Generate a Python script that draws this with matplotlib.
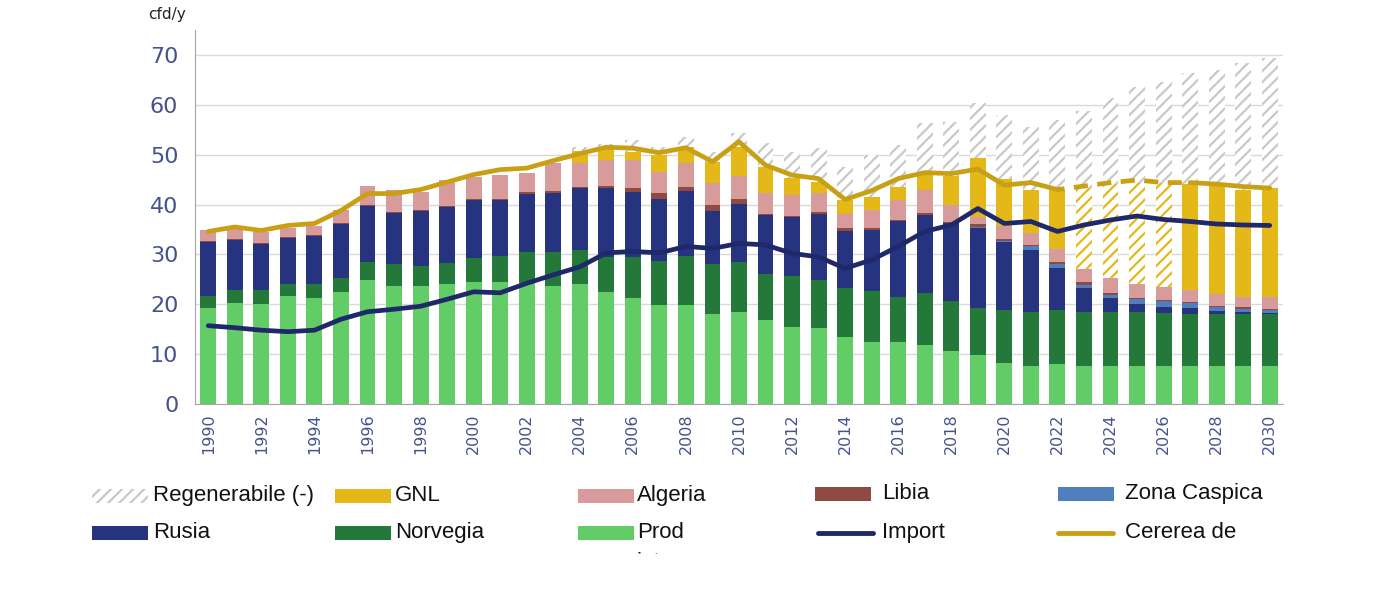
import numpy as np
import matplotlib
matplotlib.use("Agg")
import matplotlib.pyplot as plt
from matplotlib.patches import Rectangle
from matplotlib.lines import Line2D
from matplotlib.transforms import Bbox, TransformedBbox

years = np.arange(1990, 2031)

# stacked components (cfd/y), bottom to top
prod = [19.3, 20.3, 20.0, 21.7, 21.2, 22.4, 24.9, 23.7, 23.7, 24.0,
        24.4, 24.4, 24.2, 23.6, 24.1, 22.4, 21.2, 19.9, 19.9, 18.0,
        18.4, 16.8, 15.5, 15.2, 13.5, 12.4, 12.4, 11.8, 10.7, 9.9,
        8.3, 7.6, 8.0, 7.6, 7.6, 7.6, 7.6, 7.6, 7.6, 7.6, 7.6]
norvegia = [2.4, 2.6, 2.9, 2.3, 2.8, 2.8, 3.5, 4.3, 4.0, 4.3,
            4.8, 5.3, 6.2, 6.8, 6.8, 7.1, 8.3, 8.8, 9.8, 10.1,
            10.0, 9.3, 10.2, 9.7, 9.7, 10.3, 9.1, 10.5, 10.0, 9.3,
            10.6, 10.9, 10.9, 10.9, 10.9, 10.9, 10.6, 10.4, 10.4, 10.4, 10.4]
rusia = [10.7, 9.9, 9.1, 9.2, 9.7, 10.9, 11.3, 10.4, 11.0, 11.3,
         11.7, 11.2, 11.8, 12.0, 12.4, 13.9, 13.1, 12.5, 13.1, 10.7,
         11.8, 11.8, 11.7, 13.3, 11.4, 12.2, 15.1, 15.6, 15.5, 16.0,
         13.5, 12.4, 8.3, 4.7, 2.7, 1.6, 1.3, 1.2, 0.7, 0.4, 0.2]
caspica = [0.0] * 29 + [0.2, 0.2, 0.7, 0.9, 0.7, 0.7, 0.9, 1.2, 1.0, 0.8, 0.7, 0.6]
libia = [0.2] * 12 + [0.3, 0.3, 0.3, 0.3, 0.7, 1.1, 0.8, 1.1,
                      1.0, 0.3, 0.3, 0.3, 0.7, 0.4, 0.3, 0.5, 0.3, 0.7,
                      0.4, 0.3, 0.3, 0.5, 0.3, 0.3, 0.2, 0.2, 0.2, 0.4, 0.2]
algeria = [2.3, 2.0, 2.2, 1.8, 1.8, 2.7, 3.8, 4.3, 3.7, 5.1,
           4.5, 4.8, 3.8, 5.6, 4.7, 5.2, 5.6, 4.3, 4.7, 4.4,
           4.5, 4.1, 4.2, 3.9, 2.9, 3.6, 4.0, 4.5, 3.4, 1.5,
           2.6, 2.3, 2.6, 2.6, 3.0, 2.7, 2.6, 2.5, 2.4, 1.9, 2.4]
gnl = [0.0] * 14 + [2.5, 2.6, 1.7, 3.3, 3.3, 4.3,
                    5.9, 5.3, 3.4, 2.2, 2.7, 2.7, 2.7, 3.0, 5.8, 11.7,
                    9.5, 8.7, 11.9, 16.3, 18.9, 20.4, 20.9, 21.2, 21.6, 21.6, 21.9]
regenerabile = [0.0] * 14 + [0.8, 0.6, 2.3, 1.6, 1.9, 2.0,
                             2.7, 4.7, 5.3, 6.7, 6.7, 8.3, 8.3, 10.4, 10.9, 11.1,
                             12.9, 12.6, 14.1, 15.5, 17.2, 19.2, 20.1, 22.2, 23.3, 25.3, 26.0]

# lines
import_gaz = [15.7, 15.3, 14.8, 14.5, 14.8, 17.0, 18.5, 19.0, 19.6, 21.0,
              22.5, 22.3, 24.2, 25.9, 27.5, 30.3, 30.6, 30.3, 31.6, 31.2,
              32.2, 31.9, 30.2, 29.5, 27.2, 28.9, 31.6, 34.6, 35.9, 39.2,
              36.2, 36.6, 34.6, 35.9, 36.9, 37.7, 37.0, 36.6, 36.1, 35.9, 35.8]
cerere = [34.6, 35.5, 34.8, 35.8, 36.2, 38.8, 42.2, 42.2, 43.0, 44.5,
          46.0, 47.0, 47.3, 48.8, 50.2, 51.5, 51.3, 50.4, 51.4, 48.6,
          52.6, 47.9, 45.9, 45.2, 41.0, 42.8, 45.2, 46.4, 46.2, 47.1,
          43.9, 44.4, 43.0, 43.7, 44.4, 44.9, 44.4, 44.4, 44.1, 43.6, 43.3]

gnl_hatched_years = [2023, 2024, 2025, 2026]

C_PROD = "#62cd66"
C_NOR = "#23783a"
C_RUS = "#26337f"
C_CAS = "#4f80bd"
C_LIB = "#8f4a42"
C_ALG = "#d79b9b"
C_GNL = "#e4b818"
C_REG = "#c8c8c8"
C_IMP = "#1f2868"
C_CER = "#c9a014"
C_TICK = "#44538c"

plt.rcParams["hatch.linewidth"] = 1.6
fig = plt.figure(figsize=(14, 6), dpi=100)
ax = fig.add_axes([195 / 1400, 1 - 404 / 600, (1283 - 195) / 1400, (404 - 30) / 600])

w = 0.6
bottom = np.zeros(len(years))
for vals, col in [(prod, C_PROD), (norvegia, C_NOR), (rusia, C_RUS),
                  (caspica, C_CAS), (libia, C_LIB), (algeria, C_ALG)]:
    ax.bar(years, vals, w, bottom=bottom, color=col, linewidth=0, zorder=2)
    bottom += np.array(vals)

gnl = np.array(gnl)
hatch_mask = np.isin(years, gnl_hatched_years)
ax.bar(years[~hatch_mask], gnl[~hatch_mask], w, bottom=bottom[~hatch_mask],
       color=C_GNL, linewidth=0, zorder=2)
ax.bar(years[hatch_mask], gnl[hatch_mask], w, bottom=bottom[hatch_mask],
       facecolor="white", edgecolor=C_GNL, hatch="///", linewidth=0, zorder=2)
bottom += gnl
ax.bar(years, regenerabile, w, bottom=bottom, facecolor="white",
       edgecolor=C_REG, hatch="///", linewidth=0, zorder=1.5)

ax.plot(years, import_gaz, color=C_IMP, lw=3.4, solid_capstyle="round", zorder=4)
cer = np.array(cerere)
m1 = years <= 2022
m2 = (years >= 2022) & (years <= 2027)
m3 = years >= 2027
ax.plot(years[m1], cer[m1], color=C_CER, lw=3.4, solid_capstyle="round", zorder=4)
ax.plot(years[m2], cer[m2], color=C_CER, lw=3.4, linestyle=(1.5, (3, 2)), zorder=4)
ax.plot(years[m3], cer[m3], color=C_CER, lw=3.4, solid_capstyle="round", zorder=4)

ax.set_xlim(1989.5, 2030.5)
ax.set_ylim(0, 75)
ax.set_yticks(np.arange(0, 71, 10))
ax.set_xticks(years[::2])
ax.set_xticklabels([str(y) for y in years[::2]], rotation=90)
ax.tick_params(axis="y", length=0, pad=12, labelsize=16, labelcolor=C_TICK)
ax.tick_params(axis="x", length=0, pad=7, labelsize=11.5, labelcolor=C_TICK)
ax.grid(axis="y", color="#d9d9d9", lw=1, zorder=0)
ax.set_axisbelow(True)
for s in ["top", "right"]:
    ax.spines[s].set_visible(False)
ax.spines["left"].set_color("#a6a6a6")
ax.spines["bottom"].set_color("#a6a6a6")

fig.text(148 / 1400, 1 - 15 / 600, "cfd/y", fontsize=11, color="#222222", va="center")

# legend, drawn by hand to match the grid layout
FONT = ["Liberation Sans", "DejaVu Sans"]
clip = TransformedBbox(Bbox([[0, 1 - 554 / 600], [1, 1]]), fig.transFigure)


def fx(px):
    return px / 1400


def fy(py):
    return 1 - py / 600


legend_items = [
    ("hatch", C_REG, 92, 496, "Regenerabile (-)", 153),
    ("patch", C_GNL, 335, 496, "GNL", 395),
    ("patch", C_ALG, 578, 496, "Algeria", 637),
    ("patch", C_LIB, 815, 494, "Libia", 882),
    ("patch", C_CAS, 1058, 494, "Zona Caspica", 1125),
    ("patch", C_RUS, 92, 533, "Rusia", 153),
    ("patch", C_NOR, 335, 533, "Norvegia", 395),
    ("patch", C_PROD, 578, 533, "Prod\nintern", 637),
    ("line", C_IMP, 818, 533, "Import", 882),
    ("line", C_CER, 1058, 533, "Cererea de\ngaze", 1125),
]
for kind, col, x0, yc, label, tx in legend_items:
    if kind == "line":
        fig.add_artist(Line2D([fx(x0), fx(x0 + 55)], [fy(yc), fy(yc)], color=col,
                              lw=3.5, solid_capstyle="round", transform=fig.transFigure))
    elif kind == "hatch":
        fig.add_artist(Rectangle((fx(x0), fy(yc + 7)), 56 / 1400, 14 / 600,
                                 facecolor="white", edgecolor=col, hatch="///", lw=0,
                                 transform=fig.transFigure))
    else:
        fig.add_artist(Rectangle((fx(x0), fy(yc + 7)), 56 / 1400, 14 / 600,
                                 facecolor=col, lw=0, transform=fig.transFigure))
    t = fig.text(fx(tx), fy(yc - 11), label, fontsize=16, family=FONT, color="#111111",
                 va="top", ha="left", linespacing=1.55)
    t.set_clip_box(clip)
    t.set_clip_on(True)

fig.savefig("out.png", dpi=100)
